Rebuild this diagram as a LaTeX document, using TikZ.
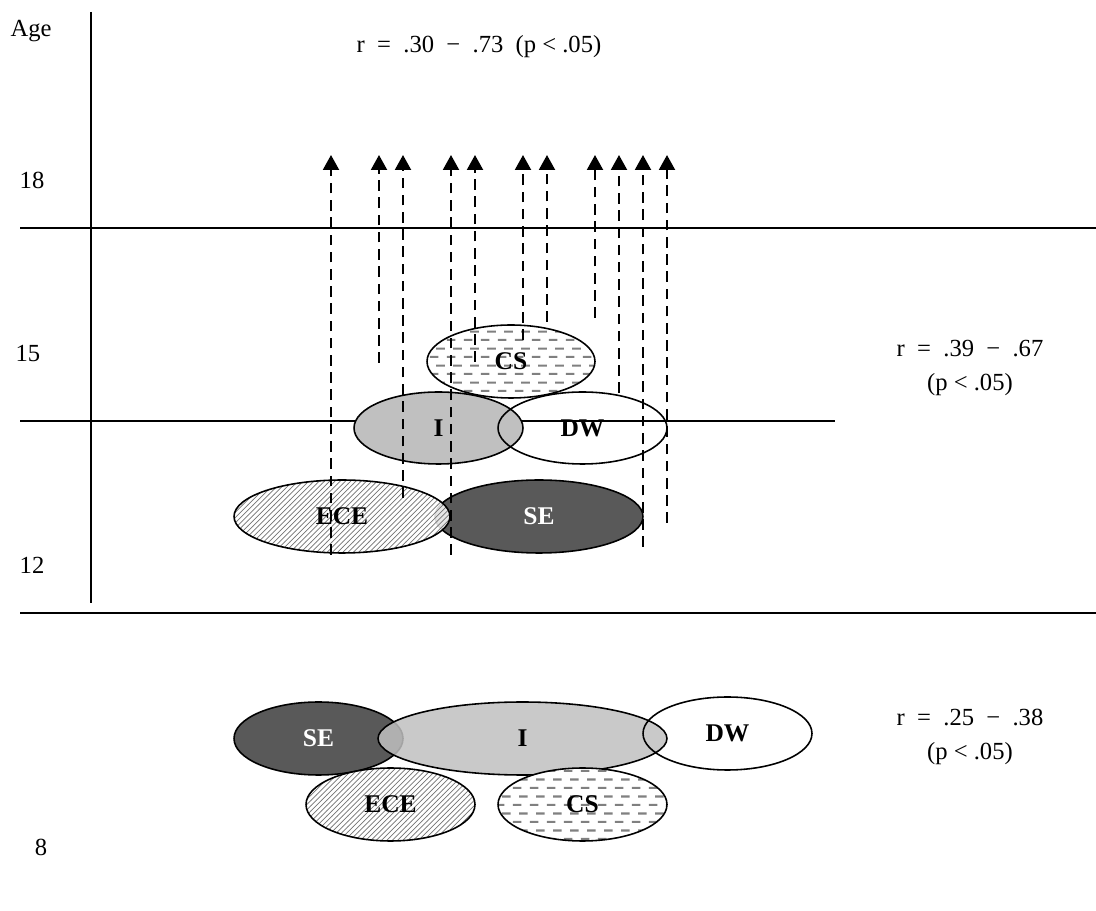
\documentclass[tikz,border=0pt]{standalone}
\usepackage{fontspec}
\setmainfont{Liberation Serif}
\usetikzlibrary{shapes.geometric,patterns,arrows.meta}

% dashed fill of the CS ovals
\pgfdeclarepatternformonly{csdash}{\pgfqpoint{0pt}{0pt}}{\pgfqpoint{9.4pt}{9.8pt}}{\pgfqpoint{9.4pt}{9.8pt}}{%
  \pgfsetlinewidth{1.2pt}%
  \pgfpathmoveto{\pgfqpoint{0.5pt}{2.45pt}}\pgfpathlineto{\pgfqpoint{5.5pt}{2.45pt}}%
  \pgfpathmoveto{\pgfqpoint{4.2pt}{7.35pt}}\pgfpathlineto{\pgfqpoint{9.2pt}{7.35pt}}%
  \pgfusepath{stroke}}

\definecolor{segray}{HTML}{595959}
\definecolor{igray}{HTML}{C0C0C0}

\begin{document}
\begin{tikzpicture}[x=0.02cm,y=-0.02cm,font=\fontsize{14}{17}\selectfont,
    oval/.style={ellipse,draw,line width=0.9pt,inner sep=0pt,minimum width=3.38cm,minimum height=1.46cm,font=\bfseries\fontsize{14.5}{17}\selectfont},
    seoval/.style={oval,fill=segray,text=white},
    ioval/.style={oval,fill=igray},
    dwoval/.style={oval},
    eceoval/.style={oval,preaction={fill=white,fill opacity=0.85},pattern=north east lines,pattern color=black!55},
    csoval/.style={oval,preaction={fill=white},pattern=csdash,pattern color=black!50},
    rlab/.style={align=center,font=\fontsize{14}{19}\selectfont},
    riser/.style={line width=1.4pt,dash pattern=on 6pt off 3.8pt,-{Triangle[width=9pt,length=8.5pt]}}]
  \useasboundingbox (0,0) rectangle (1096,911);

  % axes
  \draw[line width=0.9pt] (91,12) -- (91,603);
  \draw[line width=0.9pt] (20,228) -- (1096,228);
  \draw[line width=0.9pt] (20,421) -- (835,421);
  \draw[line width=0.9pt] (20,613) -- (1096,613);

  \node (age) at (31,31) {Age};
  \node (y18) at (32,180) {18};
  \node (y15) at (28,354) {15};
  \node (y12) at (32,565) {12};
  \node (y8) at (41,847) {8};

  \node (rtop) at (479,47) {r\ \ =\ \ .30\ \ −\ \ .73\ \ (p < .05)};
  \node[rlab] (rmid) at (970,368) {r\ \ =\ \ .39\ \ −\ \ .67\\(p < .05)};
  \node[rlab] (rlow) at (970,737) {r\ \ =\ \ .25\ \ −\ \ .38\\(p < .05)};

  % ages 12-15
  \node[seoval,minimum width=4.16cm] (se1) at (539,516.5) {SE};
  \node[eceoval,minimum width=4.32cm] (ece1) at (342,516.5) {ECE};
  \node[ioval,minimum height=1.44cm] (i1) at (438.5,428) {I};
  \node[dwoval,minimum height=1.44cm] (dw1) at (582.5,428) {DW};
  \node[csoval,minimum width=3.36cm] (cs1) at (511,361.5) {CS};

  % age 8
  \node[seoval] (se2) at (318.5,738.5) {SE};
  \node[ioval,minimum width=5.78cm,fill opacity=0.85,text opacity=1] (i2) at (522.5,738.5) {I};
  \node[dwoval] (dw2) at (727.5,733.5) {DW};
  \node[eceoval] (ece2) at (390.5,804.5) {ECE};
  \node[csoval] (cs2) at (582.5,804.5) {CS};

  % links to age 18
  \foreach \n/\x/\yb in {1/331/555,2/379/363,3/403/498,4/451/555,5/475/362,6/523/340,
                         7/547/322,8/595/318,9/619/393,10/643/547,11/667/523} {
    \coordinate (lo\n) at (\x,\yb);
    \coordinate (hi\n) at (\x,155);
    \draw[riser] (lo\n) -- (hi\n);
  }
\end{tikzpicture}
\end{document}
